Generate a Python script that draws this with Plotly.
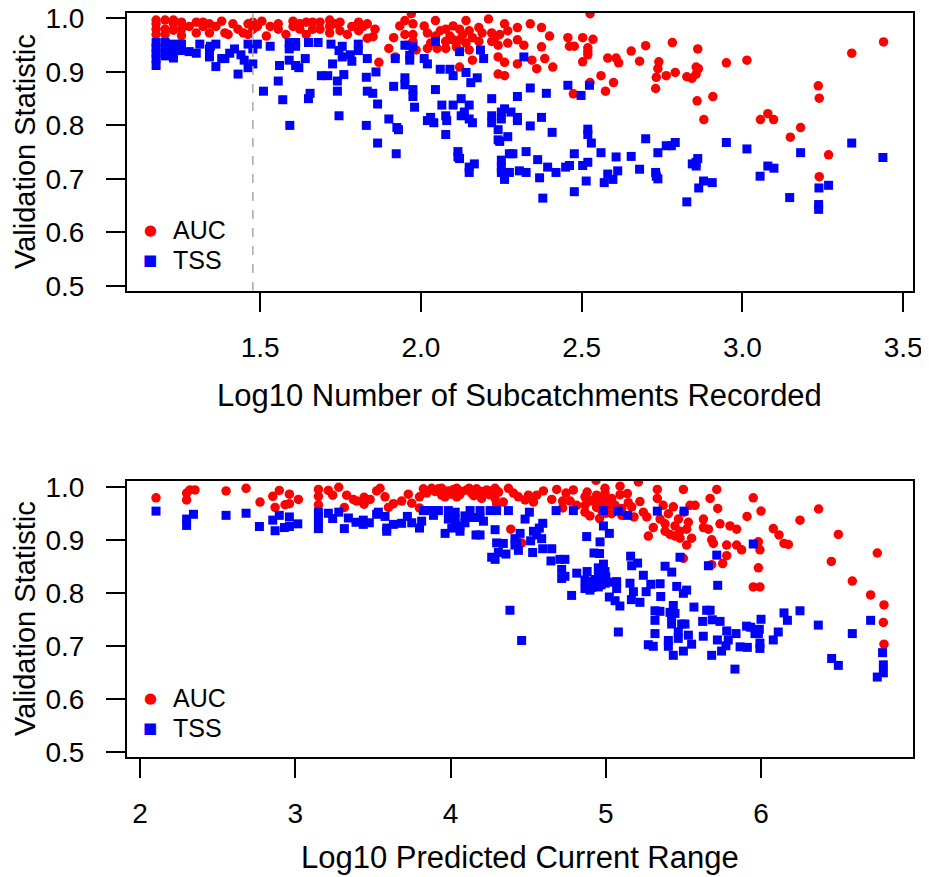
import plotly.graph_objects as go

FONT = "Liberation Sans, Arial, Helvetica, sans-serif"
W, H = 929, 877
OFF = 8            # the page body margin shifts the figure by this many pixels
RED = "#FF0000"
BLUE = "#0000FF"

# ========= DATA =========
# panel 1: x = log10 number of subcatchments recorded
sub_auc = [
    (1.176, 0.997), (1.176, 0.99), (1.176, 0.98), (1.176, 0.97),
    (1.204, 0.997), (1.204, 0.98), (1.204, 0.97),
    (1.23, 0.997), (1.23, 0.99), (1.23, 0.978),
    (1.255, 0.993), (1.255, 0.98), (1.255, 0.968), (1.279, 0.985),
    (1.301, 0.993), (1.301, 0.973), (1.322, 0.993), (1.322, 0.985),
    (1.342, 0.99), (1.342, 0.973), (1.362, 0.985), (1.38, 0.995),
    (1.39, 0.973), (1.40, 0.97), (1.415, 0.99), (1.431, 0.98),
    (1.447, 0.973), (1.462, 0.99), (1.462, 0.97), (1.477, 0.993),
    (1.477, 0.98), (1.491, 0.985), (1.505, 0.995), (1.519, 0.967),
    (1.531, 0.985), (1.556, 0.99), (1.556, 0.98), (1.58, 0.97),
    (1.602, 0.995), (1.602, 0.985), (1.623, 0.99), (1.623, 0.98),
    (1.643, 0.993), (1.643, 0.97), (1.663, 0.993), (1.663, 0.98),
    (1.686, 0.993), (1.686, 0.98), (1.716, 0.997), (1.716, 0.985),
    (1.716, 0.973), (1.732, 0.99), (1.748, 0.993), (1.748, 0.977),
    (1.771, 0.97), (1.785, 0.985), (1.806, 0.993), (1.806, 0.977),
    (1.82, 0.985), (1.833, 0.99), (1.833, 0.963), (1.851, 0.966),
    (1.857, 0.98), (1.869, 0.918),
    (1.90, 0.944), (1.915, 0.964), (1.92, 0.928), (1.934, 0.986),
    (1.95, 0.996), (1.95, 0.97), (1.955, 0.95), (1.97, 1.009),
    (1.975, 0.99), (1.975, 0.97), (1.975, 0.957), (1.985, 0.941),
    (2.01, 0.986), (2.02, 0.973), (2.02, 0.944), (2.03, 0.954),
    (2.045, 0.996), (2.045, 0.967), (2.05, 0.944), (2.06, 0.977),
    (2.077, 0.98), (2.077, 0.957), (2.077, 0.944), (2.09, 0.967),
    (2.10, 0.986), (2.10, 0.96), (2.11, 0.947), (2.12, 0.98),
    (2.12, 0.96), (2.12, 0.909), (2.13, 0.97), (2.14, 0.996),
    (2.14, 0.954), (2.15, 0.977), (2.15, 0.941), (2.16, 0.964),
    (2.16, 0.922), (2.18, 0.983), (2.18, 0.957), (2.19, 0.973),
    (2.21, 0.999), (2.22, 0.973), (2.22, 0.957), (2.23, 0.964),
    (2.24, 0.928), (2.24, 0.95), (2.24, 0.896), (2.245, 0.97),
    (2.26, 0.99), (2.26, 0.893), (2.26, 0.918), (2.27, 0.977),
    (2.27, 0.954), (2.30, 0.983), (2.30, 0.96), (2.30, 0.915),
    (2.32, 0.95), (2.34, 0.99), (2.345, 0.922), (2.36, 0.906),
    (2.375, 0.983), (2.375, 0.947), (2.385, 0.925), (2.40, 0.967),
    (2.41, 0.909),
    (2.457, 0.964), (2.462, 0.948), (2.477, 0.948), (2.474, 0.859),
    (2.503, 0.964), (2.503, 0.919), (2.519, 0.945), (2.519, 0.938),
    (2.519, 0.932), (2.526, 1.009), (2.526, 0.88), (2.535, 0.961),
    (2.56, 0.893), (2.574, 0.864), (2.581, 0.926), (2.599, 0.88),
    (2.607, 0.926), (2.615, 0.917), (2.654, 0.939), (2.68, 0.92),
    (2.699, 0.949), (2.73, 0.869), (2.732, 0.89), (2.737, 0.906),
    (2.74, 0.919), (2.763, 0.893), (2.782, 0.955), (2.791, 0.899),
    (2.827, 0.891), (2.843, 0.888), (2.856, 0.909), (2.856, 0.896),
    (2.861, 0.943), (2.863, 0.906), (2.859, 0.846), (2.88, 0.811),
    (2.908, 0.854), (2.95, 0.917), (3.014, 0.922), (3.056, 0.811),
    (3.079, 0.822), (3.097, 0.811), (3.149, 0.778), (3.181, 0.796),
    (3.236, 0.874), (3.239, 0.851), (3.268, 0.745), (3.239, 0.704),
    (3.34, 0.935), (3.439, 0.956),
]

sub_tss = [
    (1.176, 0.955), (1.176, 0.945), (1.176, 0.935), (1.176, 0.925), (1.176, 0.912),
    (1.204, 0.955), (1.204, 0.94), (1.204, 0.93),
    (1.23, 0.952), (1.23, 0.94), (1.23, 0.926),
    (1.255, 0.952), (1.255, 0.94), (1.279, 0.938), (1.301, 0.935),
    (1.312, 0.952), (1.342, 0.943), (1.342, 0.928), (1.345, 0.948),
    (1.362, 0.952), (1.362, 0.91), (1.38, 0.925), (1.39, 0.925),
    (1.405, 0.935), (1.42, 0.943), (1.431, 0.896), (1.44, 0.932),
    (1.45, 0.922), (1.462, 0.952), (1.462, 0.908), (1.477, 0.943),
    (1.477, 0.915), (1.491, 0.952), (1.51, 0.864), (1.531, 0.948),
    (1.556, 0.883), (1.56, 0.912), (1.57, 0.848), (1.59, 0.955),
    (1.59, 0.943), (1.59, 0.922), (1.592, 0.80), (1.61, 0.955),
    (1.61, 0.948), (1.61, 0.912), (1.62, 0.908), (1.64, 0.925),
    (1.65, 0.85), (1.655, 0.86), (1.65, 0.955), (1.68, 0.955),
    (1.69, 0.893), (1.71, 0.893), (1.72, 0.952), (1.725, 0.915),
    (1.74, 0.883), (1.74, 0.864), (1.745, 0.818), (1.745, 0.94),
    (1.755, 0.948), (1.755, 0.928), (1.76, 0.895), (1.78, 0.932),
    (1.785, 0.92), (1.805, 0.952), (1.805, 0.94), (1.83, 0.89),
    (1.83, 0.80), (1.833, 0.925), (1.833, 0.864), (1.85, 0.86),
    (1.86, 0.90), (1.865, 0.84), (1.865, 0.767), (1.923, 0.747),
    (1.90, 0.812), (1.915, 0.873), (1.92, 0.925), (1.925, 0.796),
    (1.93, 0.792), (1.95, 0.95), (1.95, 0.889), (1.95, 0.876),
    (1.965, 0.931), (1.965, 0.922), (1.975, 0.947), (1.975, 0.867),
    (1.975, 0.854), (1.98, 0.834), (2.01, 0.925), (2.02, 0.915),
    (2.02, 0.809), (2.03, 0.815), (2.04, 0.805), (2.045, 0.957),
    (2.045, 0.867), (2.06, 0.905), (2.065, 0.838), (2.077, 0.818),
    (2.08, 0.809), (2.077, 0.783), (2.09, 0.905), (2.10, 0.893),
    (2.10, 0.838), (2.12, 0.938), (2.125, 0.85), (2.125, 0.818),
    (2.135, 0.825), (2.14, 0.899), (2.15, 0.838), (2.15, 0.812),
    (2.155, 0.88), (2.16, 0.805), (2.175, 0.889), (2.185, 0.941),
    (2.195, 0.925), (2.22, 0.85), (2.22, 0.818), (2.22, 0.805),
    (2.24, 0.792), (2.25, 0.825), (2.25, 0.812), (2.26, 0.831),
    (2.27, 0.779), (2.28, 0.825), (2.30, 0.815), (2.30, 0.809),
    (2.30, 0.854), (2.32, 0.928), (2.34, 0.87), (2.34, 0.799),
    (2.375, 0.815), (2.39, 0.86),
    (2.115, 0.751), (2.115, 0.741), (2.12, 0.738), (2.15, 0.712),
    (2.15, 0.722), (2.166, 0.728), (2.24, 0.773), (2.245, 0.77),
    (2.25, 0.735), (2.25, 0.722), (2.25, 0.712), (2.26, 0.705),
    (2.26, 0.699), (2.275, 0.747), (2.275, 0.712), (2.286, 0.747),
    (2.306, 0.715), (2.327, 0.751), (2.327, 0.712), (2.363, 0.736),
    (2.369, 0.702), (2.379, 0.664), (2.394, 0.722), (2.408, 0.787),
    (2.42, 0.712), (2.45, 0.722), (2.462, 0.725), (2.477, 0.747),
    (2.477, 0.676), (2.503, 0.725), (2.514, 0.696), (2.519, 0.793),
    (2.519, 0.783), (2.519, 0.731), (2.53, 0.767), (2.56, 0.749),
    (2.57, 0.693), (2.581, 0.709), (2.597, 0.699), (2.607, 0.741),
    (2.612, 0.715), (2.654, 0.742), (2.68, 0.718),
    (2.457, 0.875), (2.498, 0.856), (2.524, 0.875),
    (2.699, 0.775), (2.73, 0.712), (2.737, 0.70), (2.732, 0.705),
    (2.737, 0.749), (2.763, 0.762), (2.779, 0.762), (2.791, 0.768),
    (2.827, 0.657), (2.844, 0.728), (2.856, 0.731), (2.856, 0.724),
    (2.861, 0.738), (2.864, 0.683), (2.879, 0.696), (2.906, 0.693),
    (2.95, 0.768), (3.014, 0.756), (3.055, 0.705), (3.079, 0.724),
    (3.098, 0.72), (3.147, 0.665), (3.181, 0.749), (3.238, 0.683),
    (3.268, 0.688), (3.237, 0.652), (3.237, 0.643), (3.34, 0.767),
    (3.437, 0.74),
]

# panel 2: x = log10 predicted current range
rng_auc = [
    (2.103, 0.979), (2.30, 0.988), (2.30, 0.975), (2.322, 0.994),
    (2.354, 0.994), (2.554, 0.992), (2.683, 0.997), (2.773, 0.971),
    (2.855, 0.982), (2.87, 0.961), (2.897, 0.993), (2.934, 0.966),
    (2.962, 0.986), (2.962, 0.968), (3.02, 0.976), (3.149, 0.995),
    (3.149, 0.982), (3.149, 0.966), (3.213, 0.993), (3.241, 0.984),
    (3.28, 0.999), (3.316, 0.961), (3.331, 0.984), (3.374, 0.976),
    (3.396, 0.973), (3.443, 0.98), (3.443, 0.967), (3.482, 0.976),
    (3.524, 0.992),
    (3.546, 0.997), (3.578, 0.981), (3.60, 0.961), (3.632, 0.968),
    (3.685, 0.973), (3.728, 0.986), (3.75, 0.969), (3.80, 0.981),
    (3.80, 0.96), (3.825, 0.996), (3.846, 0.988), (3.878, 0.997),
    (3.90, 0.991), (3.922, 0.996), (3.943, 0.997), (3.943, 0.984),
    (3.96, 0.99), (3.965, 0.981), (3.986, 0.992), (4.008, 0.986),
    (4.02, 0.995), (4.04, 0.997), (4.04, 0.981), (4.06, 0.985),
    (4.072, 0.991), (4.104, 0.994), (4.12, 0.997), (4.136, 0.988),
    (4.15, 0.983), (4.168, 0.996), (4.18, 0.99), (4.20, 0.991),
    (4.20, 0.978), (4.233, 0.994), (4.25, 0.985), (4.265, 0.992),
    (4.287, 0.997), (4.287, 0.978), (4.297, 0.968), (4.31, 0.99),
    (4.34, 0.971), (4.373, 0.997), (4.388, 0.92), (4.405, 0.988),
    (4.437, 0.981), (4.458, 0.894), (4.48, 0.975), (4.502, 0.984),
    (4.534, 0.971), (4.555, 0.984), (4.598, 0.992), (4.652, 0.976),
    (4.684, 0.995), (4.722, 0.973), (4.722, 0.96), (4.744, 0.988),
    (4.77, 0.973), (4.791, 0.994), (4.813, 0.965), (4.866, 0.981),
    (4.866, 0.965), (4.866, 0.952), (4.88, 0.99), (4.898, 0.973),
    (4.898, 0.945), (4.92, 0.975), (4.937, 1.012), (4.941, 0.984),
    (4.941, 0.961), (4.96, 0.94), (4.974, 0.971), (4.974, 0.955),
    (4.99, 0.975), (4.995, 0.997), (4.995, 0.988), (5.0, 0.95),
    (5.017, 0.965),
    (5.038, 0.978), (5.038, 0.949), (5.06, 0.965), (5.092, 1.001),
    (5.092, 0.985), (5.103, 0.959), (5.103, 0.946), (5.139, 0.987),
    (5.145, 0.97), (5.167, 0.962), (5.182, 0.943), (5.21, 1.009),
    (5.22, 0.972), (5.242, 0.952), (5.264, 0.943), (5.274, 0.907),
    (5.306, 0.923), (5.332, 0.995), (5.332, 0.978), (5.35, 0.939),
    (5.37, 0.965), (5.382, 0.93), (5.382, 0.916), (5.403, 0.949),
    (5.414, 0.91), (5.435, 0.962), (5.446, 0.926), (5.446, 0.907),
    (5.468, 0.939), (5.478, 0.916), (5.478, 0.903), (5.5, 0.995),
    (5.504, 0.952), (5.521, 0.92), (5.521, 0.89), (5.532, 0.933),
    (5.543, 0.965), (5.553, 0.903), (5.575, 0.965), (5.5, 0.865),
    (5.629, 0.939), (5.629, 0.923), (5.661, 0.92), (5.672, 0.978),
    (5.682, 0.9), (5.693, 0.893), (5.715, 0.995), (5.721, 0.959),
    (5.736, 0.93), (5.682, 0.853), (5.753, 0.855), (5.779, 0.87),
    (5.779, 0.89), (5.8, 0.926), (5.843, 0.92), (5.843, 0.89),
    (5.875, 0.881), (5.91, 0.944), (5.95, 0.979), (5.983, 0.896),
    (5.983, 0.847), (5.95, 0.811), (5.993, 0.881), (5.993, 0.811),
    (6.0, 0.954), (6.079, 0.921), (6.116, 0.909), (6.148, 0.893),
    (6.176, 0.891), (6.251, 0.937), (6.371, 0.958), (6.453, 0.859),
    (6.498, 0.91), (6.588, 0.822), (6.706, 0.796), (6.749, 0.875),
    (6.792, 0.777), (6.788, 0.744), (6.792, 0.703),
]

rng_tss = [
    (2.103, 0.954), (2.30, 0.939), (2.30, 0.927), (2.344, 0.948),
    (2.554, 0.946), (2.683, 0.95), (2.769, 0.925), (2.855, 0.937),
    (2.87, 0.917), (2.897, 0.946), (2.93, 0.923), (2.962, 0.943),
    (2.962, 0.925), (3.016, 0.93), (3.149, 0.952), (3.149, 0.942),
    (3.149, 0.932), (3.149, 0.921), (3.213, 0.95), (3.241, 0.94),
    (3.28, 0.952), (3.316, 0.921), (3.342, 0.941), (3.391, 0.933),
    (3.438, 0.929), (3.438, 0.937), (3.477, 0.932), (3.524, 0.948),
    (3.535, 0.952), (3.578, 0.944), (3.589, 0.922), (3.589, 0.916),
    (3.632, 0.929), (3.685, 0.931), (3.722, 0.944), (3.75, 0.932),
    (3.80, 0.922), (3.814, 0.935), (3.825, 0.955), (3.857, 0.955),
    (3.89, 0.955), (3.89, 0.946), (3.922, 0.955), (3.965, 0.912),
    (3.986, 0.955), (3.986, 0.939), (4.008, 0.922), (4.03, 0.952),
    (4.03, 0.939), (4.03, 0.929), (4.061, 0.926), (4.061, 0.916),
    (4.093, 0.945), (4.093, 0.932), (4.126, 0.955), (4.147, 0.942),
    (4.164, 0.909), (4.19, 0.955), (4.19, 0.942), (4.19, 0.909),
    (4.212, 0.935), (4.255, 0.955), (4.265, 0.867), (4.287, 0.919),
    (4.287, 0.863), (4.297, 0.955), (4.297, 0.894), (4.308, 0.876),
    (4.34, 0.893), (4.357, 0.873), (4.373, 0.955), (4.383, 0.767),
    (4.415, 0.902), (4.415, 0.89), (4.426, 0.894), (4.437, 0.88),
    (4.448, 0.912), (4.458, 0.71), (4.48, 0.939), (4.508, 0.952),
    (4.516, 0.898), (4.529, 0.876), (4.534, 0.916), (4.555, 0.909),
    (4.572, 0.922), (4.587, 0.902), (4.594, 0.931), (4.594, 0.883),
    (4.647, 0.86), (4.652, 0.883), (4.68, 0.955), (4.705, 0.863),
    (4.716, 0.844), (4.716, 0.827), (4.737, 0.863), (4.737, 0.831),
    (4.78, 0.795), (4.791, 0.955), (4.813, 0.837), (4.866, 0.824),
    (4.866, 0.808), (4.877, 0.906), (4.88, 0.84), (4.898, 0.821),
    (4.898, 0.805), (4.91, 0.81), (4.924, 0.875), (4.93, 0.825),
    (4.952, 0.847), (4.952, 0.831), (4.952, 0.811), (4.96, 0.874),
    (4.963, 0.896), (4.97, 0.815), (4.985, 0.955), (4.985, 0.926),
    (4.985, 0.854), (4.995, 0.84), (4.995, 0.818), (5.0, 0.83),
    (5.023, 0.912), (5.023, 0.792), (5.04, 0.82), (5.06, 0.785),
    (5.07, 0.821), (5.07, 0.808), (5.081, 0.726), (5.091, 0.775),
    (5.081, 0.954), (5.141, 0.946), (5.16, 0.869), (5.167, 0.851),
    (5.205, 0.856), (5.242, 0.833), (5.29, 0.816), (5.332, 0.954),
    (5.35, 0.817), (5.354, 0.793), (5.382, 0.85), (5.425, 0.839),
    (5.457, 0.812), (5.478, 0.867), (5.5, 0.799), (5.521, 0.805),
    (5.504, 0.954), (5.661, 0.851), (5.715, 0.871), (5.721, 0.814),
    (5.156, 0.818), (5.178, 0.802), (5.165, 0.787), (5.22, 0.782),
    (5.26, 0.802), (5.317, 0.766), (5.414, 0.763), (5.435, 0.776),
    (5.568, 0.773), (5.65, 0.767), (5.672, 0.767),
    (5.317, 0.748), (5.317, 0.723), (5.274, 0.702), (5.306, 0.699),
    (5.349, 0.765), (5.403, 0.71), (5.403, 0.699), (5.424, 0.756),
    (5.424, 0.741), (5.435, 0.682), (5.446, 0.761), (5.467, 0.726),
    (5.467, 0.714), (5.489, 0.741), (5.5, 0.69), (5.51, 0.741),
    (5.532, 0.72), (5.553, 0.703), (5.624, 0.746), (5.628, 0.718),
    (5.686, 0.749), (5.682, 0.682), (5.719, 0.711), (5.736, 0.746),
    (5.746, 0.69), (5.779, 0.728), (5.789, 0.711), (5.774, 0.70),
    (5.832, 0.656), (5.839, 0.723), (5.865, 0.698),
    (5.95, 0.892), (6.0, 0.75), (5.989, 0.731), (5.983, 0.723),
    (5.993, 0.705), (5.993, 0.695), (5.961, 0.723), (5.907, 0.737),
    (5.933, 0.735), (5.912, 0.697), (6.079, 0.711), (6.111, 0.726),
    (6.148, 0.762), (6.17, 0.748), (6.251, 0.766), (6.369, 0.739),
    (6.455, 0.676), (6.498, 0.663), (6.588, 0.723), (6.706, 0.748),
    (6.783, 0.687), (6.788, 0.664), (6.788, 0.649), (6.749, 0.641),
]

SUB_CUTOFF = 1.477          # log10(30) -> dashed reference line
Y_TICKS = [0.5, 0.6, 0.7, 0.8, 0.9, 1.0]
Y_LABELS = ["0.5", "0.6", "0.7", "0.8", "0.9", "1.0"]
SUB_TICKS = [1.5, 2.0, 2.5, 3.0, 3.5]
SUB_LABELS = ["1.5", "2.0", "2.5", "3.0", "3.5"]
RNG_TICKS = [2, 3, 4, 5, 6]


def xs(pts):
    return [p[0] for p in pts]


def ys(pts):
    return [p[1] for p in pts]


# screen pixel -> paper coords (compensating for the page offset)
def px_x(p):
    return (p - OFF) / W


def px_y(p):
    return 1 - (p - OFF) / H


# ========= FIGURE =========
fig = go.Figure()

for auc, tss, xa, ya in [(sub_auc, sub_tss, "x", "y"), (rng_auc, rng_tss, "x2", "y2")]:
    fig.add_trace(go.Scatter(
        x=xs(auc), y=ys(auc), mode="markers", name="AUC",
        xaxis=xa, yaxis=ya, showlegend=False,
        marker=dict(symbol="circle", size=9.5, color=RED, line=dict(width=0)),
    ))
    fig.add_trace(go.Scatter(
        x=xs(tss), y=ys(tss), mode="markers", name="TSS",
        xaxis=xa, yaxis=ya, showlegend=False,
        marker=dict(symbol="square", size=9, color=BLUE, line=dict(width=0)),
    ))

# dashed cutoff line (top panel)
fig.add_shape(type="line", xref="x", yref="y domain",
              x0=SUB_CUTOFF, x1=SUB_CUTOFF, y0=0, y1=1,
              line=dict(color="#A8A8A8", width=1.5, dash="dash"))

axis_common = dict(
    showline=True, linecolor="black", linewidth=2, mirror=True,
    ticks="outside", ticklen=19, tickwidth=1.8, tickcolor="black",
    showgrid=False, zeroline=False, automargin=False,
    ticklabeloverflow="allow",
    tickfont=dict(family=FONT, size=28, color="black"),
)

xdom = [px_x(127), px_x(913)]
fig.update_layout(
    width=W, height=H,
    margin=dict(l=0, r=0, t=0, b=0, autoexpand=False),
    paper_bgcolor="white", plot_bgcolor="white",
    font=dict(family=FONT, color="black"),
    showlegend=False,
    xaxis=dict(domain=xdom, anchor="y", range=[1.0855, 3.5306],
               tickvals=SUB_TICKS, ticktext=SUB_LABELS,
               ticklabelstandoff=11, **axis_common),
    yaxis=dict(domain=[px_y(291), px_y(13)], anchor="x", range=[0.4903, 1.0102],
               tickvals=Y_TICKS, ticktext=Y_LABELS,
               ticklabelstandoff=16, **axis_common),
    xaxis2=dict(domain=xdom, anchor="y2", range=[1.916, 6.979],
                tickvals=RNG_TICKS, ticktext=[str(t) for t in RNG_TICKS],
                ticklabelstandoff=11, **axis_common),
    yaxis2=dict(domain=[px_y(757), px_y(481)], anchor="x2", range=[0.4902, 1.0108],
                tickvals=Y_TICKS, ticktext=Y_LABELS,
                ticklabelstandoff=16, **axis_common),
)

# legend boxes drawn as text (symbol + label), one block per panel
leg_font = dict(family=FONT, size=25, color="black")
for top in (230, 698):
    for i, (sym, col, lab) in enumerate([("\u25CF", RED, "AUC"), ("\u25A0", BLUE, "TSS")]):
        yy = px_y(top + 30 * i)
        fig.add_annotation(text=sym, x=px_x(150), y=yy, xref="paper", yref="paper",
                           xanchor="center", yanchor="middle", showarrow=False,
                           font=dict(family="DejaVu Sans", size=15, color=col))
        fig.add_annotation(text=lab, x=px_x(171), y=yy, xref="paper", yref="paper",
                           xanchor="left", yanchor="middle", showarrow=False,
                           font=leg_font)

# axis titles
for txt, x, y, ang, size in [
    ("Log10 Number of Subcatchments Recorded", px_x(520), px_y(395), 0, 31),
    ("Log10 Predicted Current Range", px_x(520), px_y(857), 0, 31),
    ("Validation Statistic", px_x(25), px_y(152), -90, 29),
    ("Validation Statistic", px_x(25), px_y(619), -90, 29),
]:
    fig.add_annotation(text=txt, x=x, y=y, xref="paper", yref="paper",
                       xanchor="center", yanchor="middle", showarrow=False,
                       textangle=ang, font=dict(family=FONT, size=size, color="black"))

fig.write_html("out.html")
